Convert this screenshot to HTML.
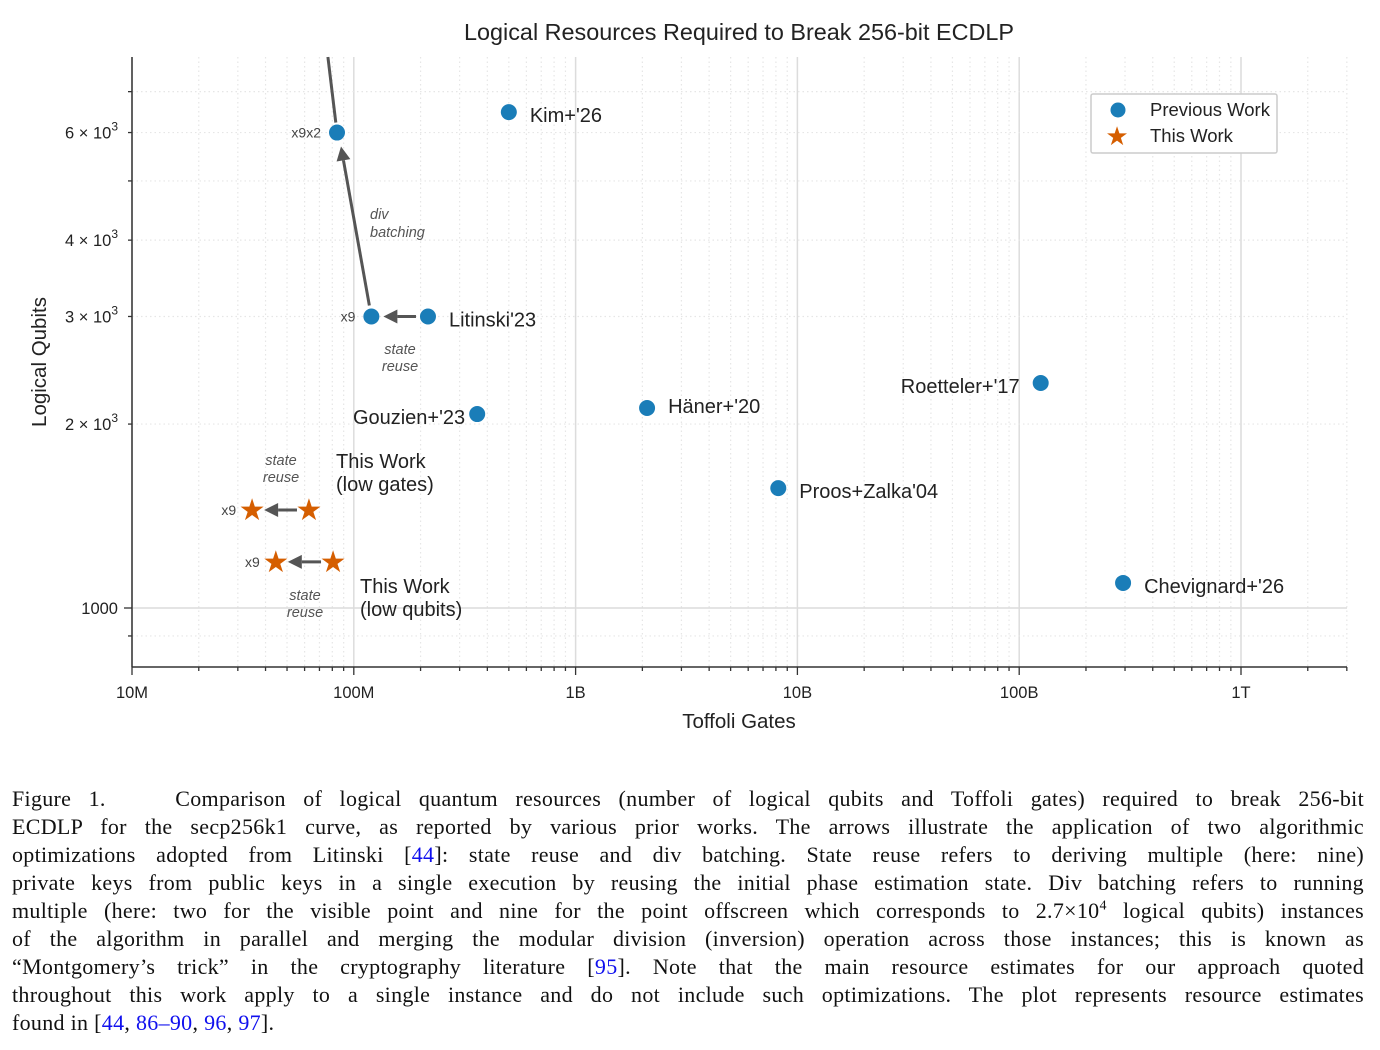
<!DOCTYPE html>
<html><head><meta charset="utf-8"><style>
body{margin:0;background:#fff;width:1380px;height:1050px;overflow:hidden;position:relative}
svg text{font-family:"Liberation Sans",sans-serif}
#cap{position:absolute;left:12px;top:785px;width:1352px;font-family:"Liberation Serif",serif;font-size:22px;letter-spacing:0.3px;line-height:28px;color:#111}
#cap div{text-align:justify;text-align-last:justify;white-space:normal;height:28px;overflow:visible}
#cap div.last{text-align-last:left}
#cap a{color:#1010ee;text-decoration:none}
</style></head><body>
<svg id="chart" width="1380" height="780" style="position:absolute;left:0;top:0">
<text x="739" y="40" text-anchor="middle" font-size="23.4" fill="#222">Logical Resources Required to Break 256-bit ECDLP</text>
<g id="grid"></g><g id="axes"></g><g id="marks"></g>
<text x="739" y="728" text-anchor="middle" font-size="20.5" fill="#222">Toffoli Gates</text>
<text transform="translate(46,362) rotate(-90)" text-anchor="middle" font-size="20.5" fill="#222">Logical Qubits</text>
<g>
<rect x="1091" y="94" width="186" height="59" fill="#fff" stroke="#ccc" stroke-width="1.5" rx="2"/>
<circle cx="1118" cy="110" r="7.5" fill="#1a7db8"/>
<text x="1150" y="116" font-size="18.5" fill="#222">Previous Work</text>
<text x="1117" y="145" text-anchor="middle" font-size="26" fill="#d55e00">★</text>
<text x="1150" y="142" font-size="18.5" fill="#222">This Work</text>
</g>
</svg>
<div id="cap">
<div>Figure 1.&nbsp;&nbsp;&nbsp; Comparison of logical quantum resources (number of logical qubits and Toffoli gates) required to break 256-bit</div>
<div>ECDLP for the secp256k1 curve, as reported by various prior works. The arrows illustrate the application of two algorithmic</div>
<div>optimizations adopted from Litinski [<a>44</a>]: state reuse and div batching. State reuse refers to deriving multiple (here: nine)</div>
<div>private keys from public keys in a single execution by reusing the initial phase estimation state. Div batching refers to running</div>
<div>multiple (here: two for the visible point and nine for the point offscreen which corresponds to 2.7×10<sup style="font-size:14px;line-height:0">4</sup> logical qubits) instances</div>
<div>of the algorithm in parallel and merging the modular division (inversion) operation across those instances; this is known as</div>
<div>“Montgomery’s trick” in the cryptography literature [<a>95</a>]. Note that the main resource estimates for our approach quoted</div>
<div>throughout this work apply to a single instance and do not include such optimizations. The plot represents resource estimates</div>
<div class="last">found in [<a>44</a>, <a>86–90</a>, <a>96</a>, <a>97</a>].</div>
</div>
<script>
const prevNames=["Kim+'26","Litinski'23","Gouzien+'23","Häner+'20","Roetteler+'17","Proos+Zalka'04","Chevignard+'26"];
const prevGates=[5.0e8,2.16e8,3.6e8,2.1e9,1.25e11,8.2e9,2.94e11];
const prevQubits=[6480,3000,2077,2125,2335,1571,1099];
const variantGates=[1.2e8,8.4e7];
const variantQubits=[3000,6000];
const variantLabels=["x9","x9x2"];
const offGates=5.1e7, offQubits=27000;
const starGates=[6.28e7,3.48e7,8.06e7,4.45e7];
const starQubits=[1447,1447,1190,1190];
const starLabels=["","x9","","x9"];
const xTicks=[1e7,1e8,1e9,1e10,1e11,1e12];
const xTickLabels=["10M","100M","1B","10B","100B","1T"];
const yTicks=[1000,2000,3000,4000,6000];
const yTickLabels=["1000","2 × 10³","3 × 10³","4 × 10³","6 × 10³"];
const X0=132,X1=1347,Y0=57,Y1=667;
const xs=v=>132+221.8*(Math.log10(v)-7);
const ys=v=>608-611*(Math.log10(v)-3);
const NS="http://www.w3.org/2000/svg";
function mk(p,t,a){const e=document.createElementNS(NS,t);for(const k in a)e.setAttribute(k,a[k]);p.appendChild(e);return e;}
const grid=document.getElementById('grid'),axes=document.getElementById('axes'),marks=document.getElementById('marks');
for(let d=7;d<=12;d++){for(let m=1;m<10;m++){const v=m*Math.pow(10,d),x=xs(v);if(x>X1)break;if(x<X0)continue;
 if(m===1){const l=mk(grid,'line',{x1:x,x2:x,y1:Y0,y2:Y1,stroke:'#dcdcdc','stroke-width':1.5});}
 else{const l=mk(grid,'line',{x1:x,x2:x,y1:Y0,y2:Y1,stroke:'#e6e6e6','stroke-width':1.2,'stroke-dasharray':'1.5,3'});}
 mk(axes,'line',{x1:x,x2:x,y1:Y1,y2:Y1+(m===1?8:4),stroke:'#333','stroke-width':1.3});}}
for(let v=800;v<=8000;v+=100){let major=v===1000;let minor=(v<1000&&v%100===0)||(v>1000&&v%1000===0);if(!major&&!minor)continue;const y=ys(v);if(y<Y0||y>Y1)continue;
 if(major){const l=mk(grid,'line',{x1:X0,x2:X1,y1:y,y2:y,stroke:'#dcdcdc','stroke-width':1.5});}
 else{const l=mk(grid,'line',{x1:X0,x2:X1,y1:y,y2:y,stroke:'#e6e6e6','stroke-width':1.2,'stroke-dasharray':'1.5,3'});}
 mk(axes,'line',{x1:X0-(major?8:4),x2:X0,y1:y,y2:y,stroke:'#333','stroke-width':1.3});}
mk(axes,'line',{x1:X0,x2:X0,y1:Y0,y2:Y1,stroke:'#333','stroke-width':1.5});
mk(axes,'line',{x1:X0,x2:X1,y1:Y1,y2:Y1,stroke:'#333','stroke-width':1.5});
xTicks.forEach((v,i)=>{const t=mk(axes,'text',{x:xs(v),y:Y1+31,'text-anchor':'middle','font-size':16.5,fill:'#222'});t.textContent=xTickLabels[i];

});
yTicks.forEach((v,i)=>{const t=mk(axes,'text',{x:X0-14,y:ys(v)+6,'text-anchor':'end','font-size':16.5,fill:'#222'});
if(i===0)t.textContent=yTickLabels[i];else{const p=yTickLabels[i].split('³')[0];t.textContent=p;const s=mk(t,'tspan',{dy:-8,'font-size':12});s.textContent='3';}

});
function arrow(x1,y1,x2,y2,name){const a=Math.atan2(y2-y1,x2-x1),L=14,W=7;const bx=x2-L*Math.cos(a),by=y2-L*Math.sin(a);
 const g=mk(marks,'g',{});
 mk(g,'line',{x1,y1,x2:bx,y2:by,stroke:'#555','stroke-width':3});
 mk(g,'polygon',{points:`${x2},${y2} ${bx-W*Math.sin(a)},${by+W*Math.cos(a)} ${bx+W*Math.sin(a)},${by-W*Math.cos(a)}`,fill:'#555'});}
function txt(x,y,s,o){const t=mk(marks,'text',Object.assign({x,y,'font-size':20,fill:'#222'},o||{}));t.textContent=s;return t;}
{const x1=xs(offGates),y1=ys(offQubits),x2=xs(variantGates[1]),y2=ys(variantQubits[1]);const tt=(Y0-y1)/(y2-y1);const te=(y2-10-y1)/(y2-y1);
 const l=mk(marks,'line',{x1:x1+(x2-x1)*tt,y1:Y0,x2:x1+(x2-x1)*te,y2:y2-10,stroke:'#555','stroke-width':3});}
arrow(xs(prevGates[1])-12,ys(3000),xs(variantGates[0])+12,ys(3000),'state-reuse-arrow');
{const x1=xs(variantGates[0]),y1=ys(3000),x2=xs(variantGates[1]),y2=ys(6000);arrow(x1-2,y1-11,x2+4,y2+14,'div-batching-arrow');}
arrow(xs(starGates[0])-12,ys(starQubits[0]),xs(starGates[1])+12,ys(starQubits[1]),'star-state-reuse-arrow');
arrow(xs(starGates[2])-12,ys(starQubits[2]),xs(starGates[3])+12,ys(starQubits[3]),'star-state-reuse-arrow');
prevGates.forEach((g,i)=>{const c=mk(marks,'circle',{cx:xs(g),cy:ys(prevQubits[i]),r:8,fill:'#1a7db8'});

});
variantGates.forEach((g,i)=>{const c=mk(marks,'circle',{cx:xs(g),cy:ys(variantQubits[i]),r:8,fill:'#1a7db8'});


txt(xs(g)-16,ys(variantQubits[i])+5,variantLabels[i],{'font-size':14,fill:'#444','text-anchor':'end'});});
starGates.forEach((g,i)=>{const t=mk(marks,'text',{x:xs(g),y:ys(starQubits[i])+10,'text-anchor':'middle','font-size':30,fill:'#d55e00'});t.textContent='★';


if(starLabels[i])txt(xs(g)-16,ys(starQubits[i])+5,starLabels[i],{'font-size':14,fill:'#444','text-anchor':'end'});});
const off=[[21,10,'start'],[21,10,'start'],[-12,10,'end'],[21,5,'start'],[-21,10,'end'],[21,10,'start'],[21,10,'start']];
prevNames.forEach((n,i)=>{const t=txt(xs(prevGates[i])+off[i][0],ys(prevQubits[i])+off[i][1],n,{'text-anchor':off[i][2]});});
const it={'font-size':14.5,fill:'#555','font-style':'italic'};
txt(370,219,'div',it);txt(370,237,'batching',it);
txt(400,354,'state',Object.assign({'text-anchor':'middle'},it));txt(400,371,'reuse',Object.assign({'text-anchor':'middle'},it));
txt(281,465,'state',Object.assign({'text-anchor':'middle'},it));txt(281,482,'reuse',Object.assign({'text-anchor':'middle'},it));
txt(305,600,'state',Object.assign({'text-anchor':'middle'},it));txt(305,617,'reuse',Object.assign({'text-anchor':'middle'},it));
txt(336,468,'This Work');txt(336,491,'(low gates)');
txt(360,593,'This Work');txt(360,616,'(low qubits)');
</script>
</body></html>
